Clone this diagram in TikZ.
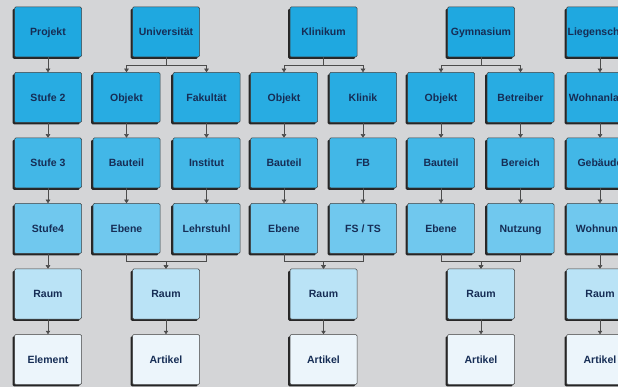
\documentclass[tikz,border=0pt]{standalone}
\usepackage{fontspec}
\setmainfont{Liberation Sans}
\usetikzlibrary{shadows, arrows.meta}

\definecolor{bggrey}{RGB}{212,213,215}
\definecolor{lvlA}{RGB}{31,168,224}
\definecolor{lvlB}{RGB}{40,172,226}
\definecolor{lvlC}{RGB}{66,183,231}
\definecolor{lvlD}{RGB}{112,200,238}
\definecolor{lvlE}{RGB}{186,227,246}
\definecolor{lvlF}{RGB}{236,245,251}
\definecolor{boxtext}{RGB}{22,45,85}

\tikzset{
  ebox/.style={draw=black!75, line width=0.5pt, rounded corners=1.2pt,
    minimum width=67pt, minimum height=50pt, inner sep=0pt,
    text height=7.6pt, text depth=0pt,
    font=\fontsize{10.5}{12}\selectfont\bfseries, text=boxtext,
    drop shadow={shadow xshift=-1.8pt, shadow yshift=-1.8pt, fill=black!85, opacity=1}},
  link/.style={draw=black!70, line width=0.5pt, -{Triangle[length=3.5pt,width=4.5pt]}}
}

\begin{document}
\begin{tikzpicture}[x=1pt, y=-1pt]
  % 1. Hintergrund und Rahmen
  \useasboundingbox (0,0) rectangle (618,387);
  \clip (0,0) rectangle (618,387);
  \fill[bggrey] (0,0) rectangle (618,387);

  % 2. Projekt
  \node[ebox, fill=lvlA] (projekt) at (48,32)    {Projekt};
  \node[ebox, fill=lvlB] (stufeB)  at (48,97.5)  {Stufe 2};
  \node[ebox, fill=lvlC] (stufeC)  at (48,163)   {Stufe 3};
  \node[ebox, fill=lvlD] (stufeD)  at (48,228.5) {Stufe4};
  \node[ebox, fill=lvlE] (praum)   at (48,294)   {Raum};
  \node[ebox, fill=lvlF] (element) at (48,359.5) {Element};

  % 3. Universität
  \node[ebox, fill=lvlA] (uni)    at (166,32)      {Universität};
  \node[ebox, fill=lvlB] (uobj)   at (126.5,97.5)  {Objekt};
  \node[ebox, fill=lvlB] (ufak)   at (206.5,97.5)  {Fakultät};
  \node[ebox, fill=lvlC] (ubau)   at (126.5,163)   {Bauteil};
  \node[ebox, fill=lvlC] (uinst)  at (206.5,163)   {Institut};
  \node[ebox, fill=lvlD] (uebene) at (126.5,228.5) {Ebene};
  \node[ebox, fill=lvlD] (ulehr)  at (206.5,228.5) {Lehrstuhl};
  \node[ebox, fill=lvlE] (uraum)  at (166,294)     {Raum};
  \node[ebox, fill=lvlF] (uart)   at (166,359.5)   {Artikel};

  % 4. Klinikum
  \node[ebox, fill=lvlA] (klinikum) at (323.5,32)   {Klinikum};
  \node[ebox, fill=lvlB] (kobj)     at (284,97.5)   {Objekt};
  \node[ebox, fill=lvlB] (klinik)   at (363,97.5)   {Klinik};
  \node[ebox, fill=lvlC] (kbau)     at (284,163)    {Bauteil};
  \node[ebox, fill=lvlC] (kfb)      at (363,163)    {FB};
  \node[ebox, fill=lvlD] (kebene)   at (284,228.5)  {Ebene};
  \node[ebox, fill=lvlD] (kfsts)    at (363,228.5)  {FS / TS};
  \node[ebox, fill=lvlE] (kraum)    at (323.5,294)  {Raum};
  \node[ebox, fill=lvlF] (kart)     at (323.5,359.5){Artikel};

  % 5. Gymnasium
  \node[ebox, fill=lvlA] (gym)     at (481,32)     {Gymnasium};
  \node[ebox, fill=lvlB] (gobj)    at (441,97.5)   {Objekt};
  \node[ebox, fill=lvlB] (gbetr)   at (520.5,97.5) {Betreiber};
  \node[ebox, fill=lvlC] (gbau)    at (441,163)    {Bauteil};
  \node[ebox, fill=lvlC] (gber)    at (520.5,163)  {Bereich};
  \node[ebox, fill=lvlD] (gebene)  at (441,228.5)  {Ebene};
  \node[ebox, fill=lvlD] (gnutz)   at (520.5,228.5){Nutzung};
  \node[ebox, fill=lvlE] (graum)   at (481,294)    {Raum};
  \node[ebox, fill=lvlF] (gart)    at (481,359.5)  {Artikel};

  % 6. Liegenschaft (rechts abgeschnitten)
  \node[ebox, fill=lvlA] (lieg)   at (600,32)    {Liegenschaft};
  \node[ebox, fill=lvlB] (lwohna) at (600,97.5)  {Wohnanlage};
  \node[ebox, fill=lvlC] (lgeb)   at (600,163)   {Gebäude};
  \node[ebox, fill=lvlD] (lwohnu) at (600,228.5) {Wohnung};
  \node[ebox, fill=lvlE] (lraum)  at (600,294)   {Raum};
  \node[ebox, fill=lvlF] (lart)   at (600,359.5) {Artikel};

  % 7. gerade Verbindungen
  \draw[link] (projekt) -- (stufeB);
  \draw[link] (stufeB) -- (stufeC);
  \draw[link] (stufeC) -- (stufeD);
  \draw[link] (stufeD) -- (praum);
  \draw[link] (praum) -- (element);
  \draw[link] (uobj) -- (ubau);
  \draw[link] (ubau) -- (uebene);
  \draw[link] (ufak) -- (uinst);
  \draw[link] (uinst) -- (ulehr);
  \draw[link] (uraum) -- (uart);
  \draw[link] (kobj) -- (kbau);
  \draw[link] (kbau) -- (kebene);
  \draw[link] (klinik) -- (kfb);
  \draw[link] (kfb) -- (kfsts);
  \draw[link] (kraum) -- (kart);
  \draw[link] (gobj) -- (gbau);
  \draw[link] (gbau) -- (gebene);
  \draw[link] (gbetr) -- (gber);
  \draw[link] (gber) -- (gnutz);
  \draw[link] (graum) -- (gart);
  \draw[link] (lieg) -- (lwohna);
  \draw[link] (lwohna) -- (lgeb);
  \draw[link] (lgeb) -- (lwohnu);
  \draw[link] (lwohnu) -- (lraum);
  \draw[link] (lraum) -- (lart);

  % 8. Verzweigungen oben
  \draw[link] (uni.south) -- ++(0,8) -| (uobj.north);
  \draw[link] (uni.south) -- ++(0,8) -| (ufak.north);
  \draw[link] (klinikum.south) -- ++(0,8) -| (kobj.north);
  \draw[link] (klinikum.south) -- ++(0,8) -| (klinik.north);
  \draw[link] (gym.south) -- ++(0,8) -| (gobj.north);
  \draw[link] (gym.south) -- ++(0,8) -| (gbetr.north);

  % 9. Zusammenführungen unten
  \draw[link] (uebene.south) -- ++(0,8) -| (uraum.north);
  \draw[link] (ulehr.south) -- ++(0,8) -| (uraum.north);
  \draw[link] (kebene.south) -- ++(0,8) -| (kraum.north);
  \draw[link] (kfsts.south) -- ++(0,8) -| (kraum.north);
  \draw[link] (gebene.south) -- ++(0,8) -| (graum.north);
  \draw[link] (gnutz.south) -- ++(0,8) -| (graum.north);
\end{tikzpicture}
\end{document}
